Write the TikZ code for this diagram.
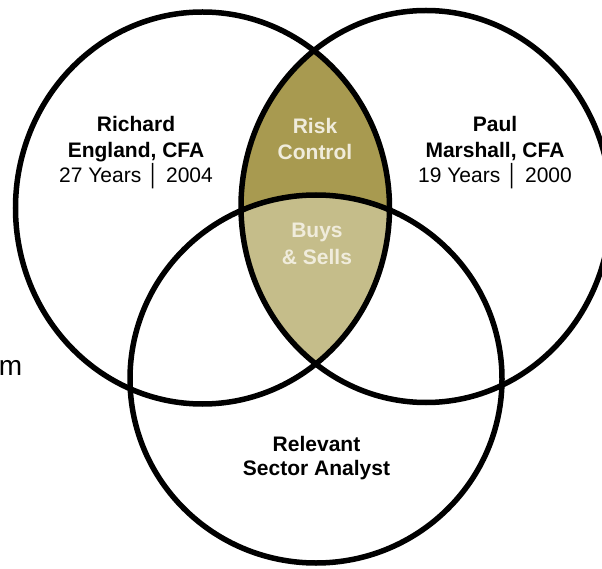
\documentclass[tikz,border=0pt]{standalone}
\usepackage{fontspec}
\setmainfont{Liberation Sans}
\definecolor{riskgold}{HTML}{A89A50}
\definecolor{buysgold}{HTML}{C5BD8A}
\definecolor{lenstext}{HTML}{F0ECDC}

\begin{document}
\begin{tikzpicture}[x=1pt, y=-1pt,
  every node/.style={align=center, inner sep=0pt, font=\fontsize{21}{25.5}\selectfont},
  ring/.style={draw=black, line width=5.5pt},
  lens/.style={text=lenstext, font=\fontsize{21}{26}\selectfont\bfseries}]
\useasboundingbox (0,0) rectangle (602,569);
\coordinate (L) at (202.5,208);
\coordinate (R) at (426,206.5);
\coordinate (B) at (316,379);
% shaded overlap of the two upper rings
\begin{scope}
  \clip (L) ellipse [x radius=187pt, y radius=196pt];
  \fill[riskgold] (R) ellipse [x radius=185pt, y radius=196pt];
  \clip (R) ellipse [x radius=185pt, y radius=196pt];
  \fill[buysgold] (B) ellipse [x radius=186pt, y radius=184pt];
\end{scope}
% rings
\draw[ring] (L) ellipse [x radius=187pt, y radius=196pt];
\draw[ring] (R) ellipse [x radius=185pt, y radius=196pt];
\draw[ring] (B) ellipse [x radius=186pt, y radius=184pt];
% labels
\node (richard) at (136,153) {\textbf{Richard}\\\textbf{England, CFA}\\27 Years │ 2004};
\node (paul) at (495,153) {\textbf{Paul}\\\textbf{Marshall, CFA}\\19 Years │ 2000};
\node[lens] (risk) at (315,138.5) {Risk\\Control};
\node[lens, font=\fontsize{21}{27}\selectfont\bfseries] (buys) at (317,244) {Buys\\\& Sells};
\node[font=\fontsize{21}{23.3}\selectfont\bfseries] (analyst) at (316.5,458) {Relevant\\Sector Analyst};
\node[anchor=base east, font=\fontsize{28}{30}\selectfont] (cut) at (22.5,375) {m};
\end{tikzpicture}
\end{document}
